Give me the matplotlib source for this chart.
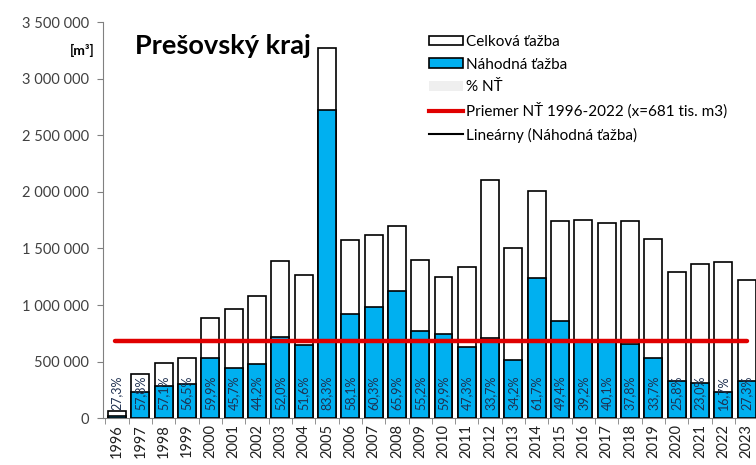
import matplotlib
matplotlib.use("Agg")
import matplotlib.pyplot as plt
from matplotlib.patches import Patch
from matplotlib.lines import Line2D
from matplotlib.ticker import FuncFormatter, FixedLocator
import numpy as np

years = [str(y) for y in range(1996, 2024)]
total = [68000, 392000, 492000, 531000, 890000, 965000, 1082000, 1386000, 1262000,
         3274000, 1578000, 1622000, 1700000, 1395000, 1248000, 1333000, 2107000,
         1504000, 2010000, 1745000, 1752000, 1725000, 1745000, 1584000, 1289000,
         1366000, 1377000, 1218000]
random_cut = [19000, 230000, 281000, 300000, 533000, 441000, 478000, 721000, 651000,
              2727000, 917000, 979000, 1120000, 770000, 748000, 631000, 710000,
              514000, 1240000, 862000, 686000, 692000, 660000, 534000, 333000,
              314000, 230000, 333000]
pct_labels = ["27,3%", "57,8%", "57,1%", "56,5%", "59,9%", "45,7%", "44,2%", "52,0%",
              "51,6%", "83,3%", "58,1%", "60,3%", "65,9%", "55,2%", "59,9%", "47,3%",
              "33,7%", "34,2%", "61,7%", "49,4%", "39,2%", "40,1%", "37,8%", "33,7%",
              "25,8%", "23,0%", "16,7%", "27,3%"]
mean_nt = 681000

font = ["Lato", "DejaVu Sans"]
plt.rcParams['font.family'] = font

fig = plt.figure(figsize=(7.56, 4.65), dpi=100)
ax = fig.add_axes([103/756, (465-418.3)/465, 1 - 103/756, (418.3-22)/465])

x = np.arange(len(years))
w = 0.77
blue = "#00B0F0"
ax.bar(x, total, width=w, color="white", edgecolor="black", linewidth=1.2, zorder=2)
ax.bar(x, random_cut, width=w, color=blue, edgecolor="black", linewidth=1.2, zorder=3)

ax.plot([-0.1, 27], [mean_nt, mean_nt], color="#E00000", linewidth=3.2, zorder=5,
        solid_capstyle="round")

for xi, lab in zip(x, pct_labels):
    ax.text(xi, 225000, lab, rotation=90, ha="center", va="center", fontsize=9,
            color="#1F3050", zorder=6)

ax.set_xlim(-0.6, 27.4)
ax.set_ylim(0, 3500000)
ax.set_yticks(np.arange(0, 3500001, 500000))
ax.yaxis.set_major_formatter(FuncFormatter(lambda v, p: f"{int(v):,}".replace(",", " ")))
ax.set_xticks(x)
ax.set_xticklabels(years, rotation=90, fontsize=10.5, color="#202020")
ax.xaxis.set_minor_locator(FixedLocator(np.arange(-0.5, 27.6, 1)))
ax.tick_params(axis="x", which="major", length=0, pad=4)
ax.tick_params(axis="x", which="minor", length=4, color="#808080")
ax.tick_params(axis="y", length=4, color="#808080", labelsize=10.5, labelcolor="#404040", pad=6)
for s in ["top", "right"]:
    ax.spines[s].set_visible(False)
ax.spines["left"].set_color("#808080")
ax.spines["bottom"].set_color("#808080")

fig.text(135/756, 1 - 46/465, "Prešovský kraj", fontsize=19.5, fontweight="bold",
         va="center", ha="left", family=font)
fig.text(95/756, 1 - 50/465, "[m³]", fontsize=10, fontweight="bold",
         va="center", ha="right", family=font)

handles = [Patch(facecolor="white", edgecolor="black", linewidth=1.2),
           Patch(facecolor=blue, edgecolor="black", linewidth=1.2),
           Patch(facecolor="#EFEFEF", edgecolor="none"),
           Line2D([0], [0], color="#E00000", linewidth=3),
           Line2D([0], [0], color="black", linewidth=1.5)]
labels = ["Celková ťažba", "Náhodná ťažba", "% NŤ",
          "Priemer NŤ 1996-2022 (x=681 tis. m3)", "Lineárny (Náhodná ťažba)"]
fig.legend(handles, labels, loc="upper left", bbox_to_anchor=(429/756, 1 - 35/465),
           frameon=False, fontsize=11, handlelength=2.2, handleheight=0.6,
           handletextpad=0.2, labelspacing=0.56, borderaxespad=0, borderpad=0)

fig.savefig("out.png", dpi=100)
